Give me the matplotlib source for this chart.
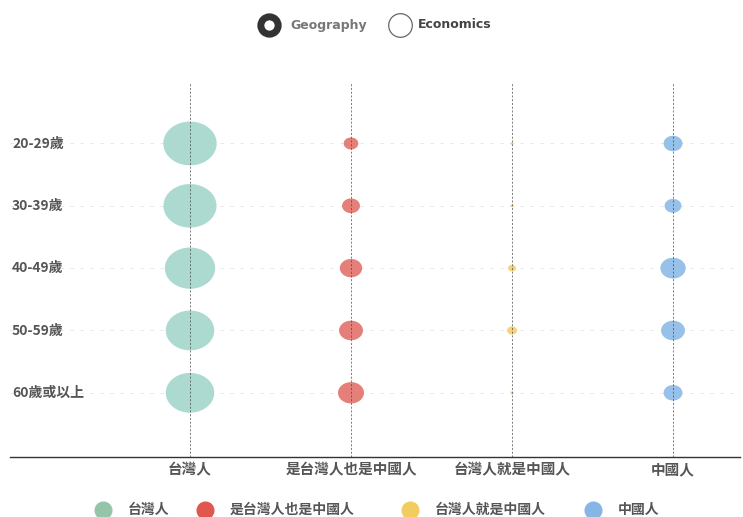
import numpy as np
import matplotlib
matplotlib.use("Agg")
import matplotlib.pyplot as plt
from matplotlib.lines import Line2D

plt.rcParams['font.family'] = ['Noto Sans CJK TC', 'DejaVu Sans']

# data
age_groups = ['20-29歲', '30-39歲', '40-49歲', '50-59歲', '60歲或以上']
identities = ['台灣人', '是台灣人也是中國人', '台灣人就是中國人', '中國人']
taiwanese = [80, 79, 71, 66, 66]
both = [6, 9, 14, 16, 19]
chinese_is_taiwanese = [0.3, 0.3, 1.8, 2.8, 0.3]
chinese = [10, 8, 18, 16, 10]
colors = ['#a3d6cc', '#e2726b', '#f3cf72', '#8dbbe8']
legend_colors = ['#95c5a8', '#e0574d', '#f3cc60', '#86b5e6']

series = [taiwanese, both, chinese_is_taiwanese, chinese]

# bubbles in the source look a bit wider than tall
t = np.linspace(0, 2 * np.pi, 60)
ellipse = np.column_stack([np.cos(t), 0.82 * np.sin(t)])

W, H = 743, 517
fig = plt.figure(figsize=(W / 100, H / 100), dpi=100)
ax = fig.add_axes([10 / W, 1 - 457 / H, 730 / W, (457 - 83) / H])

rows = np.arange(len(age_groups))
for i in range(len(identities)):
    ax.axvline(i, color='#444444', lw=0.6, ls=(0, (2.5, 2)), alpha=0.8, zorder=3)
for r in rows:
    ax.axhline(r, color='#e2e2e2', lw=0.6, ls=(0, (4, 8)), zorder=0)

for i, vals in enumerate(series):
    sizes = [18.5 * v for v in vals]
    ax.scatter([i] * len(vals), rows, s=sizes, marker=ellipse, color=colors[i],
               edgecolor='none', alpha=0.9, zorder=2)

ax.set_xlim(-1.118, 3.416)
ax.set_ylim(5.03, -0.97)

for s in ['top', 'right', 'left']:
    ax.spines[s].set_visible(False)
ax.spines['bottom'].set_color('#333333')
ax.spines['bottom'].set_linewidth(1.0)

ax.set_yticks([])
ax.set_xticks(range(len(identities)))
ax.set_xticklabels(identities, fontsize=10.5, color='#555555', fontweight='bold')
ax.tick_params(axis='x', length=0, pad=3)

for r, lab in zip(rows, age_groups):
    ax.text(2 / 730, r, lab, transform=ax.get_yaxis_transform(), ha='left',
            va='center', fontsize=10, color='#555555', fontweight='bold')

# top toggle (Geography selected)
fig.add_artist(Line2D([269 / W], [1 - 25 / H], transform=fig.transFigure, marker='o',
                      ms=12.5, mew=5.0, mfc='white', mec='#333333', ls='none'))
fig.text(290 / W, 1 - 25 / H, 'Geography', fontsize=9, color='#777777',
         ha='left', va='center', family=['DejaVu Sans'], fontweight='bold')
fig.add_artist(Line2D([400 / W], [1 - 25 / H], transform=fig.transFigure, marker='o',
                      ms=17, mew=0.9, mfc='white', mec='#666666', ls='none'))
fig.text(418 / W, 1 - 25 / H, 'Economics', fontsize=9, color='#444444',
         ha='left', va='center', family=['DejaVu Sans'], fontweight='bold')

# bottom legend, laid out like the source
dot_x = [103, 205, 410, 593]
for x, c, lab in zip(dot_x, legend_colors, identities):
    fig.add_artist(Line2D([x / W], [1 - 510 / H], transform=fig.transFigure,
                          marker='o', ms=12, color=c, ls='none'))
    fig.text((x + 25) / W, 1 - 510 / H, lab, fontsize=10, color='#555555',
             ha='left', va='center', fontweight='bold')

fig.savefig('out.png', dpi=100)
